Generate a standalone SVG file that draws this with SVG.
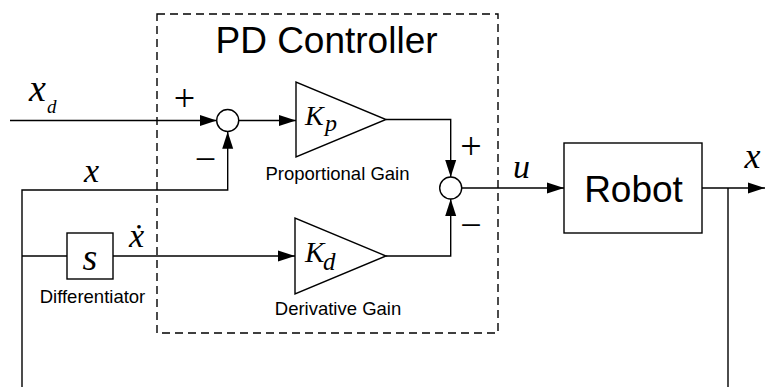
<svg xmlns="http://www.w3.org/2000/svg" width="765" height="387" viewBox="0 0 765 387">
<style>
.ln{fill:none;stroke:#000;stroke-width:1.4}
.blk{fill:#fff;stroke:#000;stroke-width:1.4}
.dash{fill:none;stroke:#000;stroke-width:1.4;stroke-dasharray:8 5}
.m{font-family:"Liberation Serif","Times New Roman",serif;font-style:italic;fill:#000}
.s{font-family:"Liberation Sans",Arial,sans-serif;fill:#000}
.sg{font-family:"Liberation Serif","Times New Roman",serif;fill:#000;font-size:38px;text-anchor:middle}
.lb{font-family:"Liberation Sans",Arial,sans-serif;fill:#000;font-size:18.5px;text-anchor:middle}
</style>
<defs>
<marker id="arr" markerUnits="userSpaceOnUse" markerWidth="18" markerHeight="12" refX="17" refY="6" orient="auto">
<path d="M0,0.5 L17,6 L0,11.5 Z" fill="#000"/>
</marker>
</defs>
<rect class="dash" x="157" y="14" width="341" height="319"/>
<text class="s" x="326.5" y="53" font-size="37" text-anchor="middle">PD Controller</text>
<g id="connectors">
<path class="ln" d="M10,120.5 H216.7" marker-end="url(#arr)"/>
<path class="ln" d="M22,387 V190 H227.7 V131.7" marker-end="url(#arr)"/>
<path class="ln" d="M22,256 H67"/>
<path class="ln" d="M113,256 H295" marker-end="url(#arr)"/>
<path class="ln" d="M238.7,120.5 H296" marker-end="url(#arr)"/>
<path class="ln" d="M386,119.5 H450.7 V177" marker-end="url(#arr)"/>
<path class="ln" d="M386,256 H450.7 V199" marker-end="url(#arr)"/>
<path class="ln" d="M461.7,188 H564" marker-end="url(#arr)"/>
<path class="ln" d="M702,188 H765" marker-end="url(#arr)"/>
<path class="ln" d="M728,188 V387"/>
</g>
<g id="sum1">
<circle class="blk" cx="227.7" cy="120.5" r="11"/>
<text class="sg" x="184.5" y="111">+</text>
<text class="sg" x="205.5" y="172">−</text>
</g>
<g id="sum2">
<circle class="blk" cx="450.7" cy="188" r="11"/>
<text class="sg" x="471" y="158.5">+</text>
<text class="sg" x="471" y="237.5">−</text>
</g>
<g id="kp">
<path class="blk" d="M296,82 L296,157 L386,119.5 Z"/>
<text class="m" x="305" y="125" font-size="28">K</text>
<text class="m" x="325" y="131" font-size="24">p</text>
<text class="lb" x="337.5" y="180">Proportional Gain</text>
</g>
<g id="kd">
<path class="blk" d="M295,218 L295,294 L386,256 Z"/>
<text class="m" x="305" y="262" font-size="29">K</text>
<text class="m" x="323" y="270" font-size="25">d</text>
<text class="lb" x="338" y="315">Derivative Gain</text>
</g>
<g id="diff">
<rect class="blk" x="67" y="233" width="46" height="46"/>
<text class="m" x="90" y="270" font-size="38" text-anchor="middle">s</text>
<text class="lb" x="92.5" y="303">Differentiator</text>
</g>
<g id="robot">
<rect class="blk" x="564" y="143" width="138" height="90"/>
<text class="s" x="633.5" y="202" font-size="37" text-anchor="middle">Robot</text>
</g>
<g id="labels">
<text class="m" x="29" y="101" font-size="38">x</text>
<text class="m" x="47" y="113" font-size="19">d</text>
<text class="m" x="91.5" y="182" font-size="34" text-anchor="middle">x</text>
<text class="m" x="136.5" y="247" font-size="34" text-anchor="middle">ẋ</text>
<text class="m" x="521.5" y="178" font-size="34" text-anchor="middle">u</text>
<text class="m" x="752.5" y="168" font-size="36" text-anchor="middle">x</text>
</g>
</svg>
